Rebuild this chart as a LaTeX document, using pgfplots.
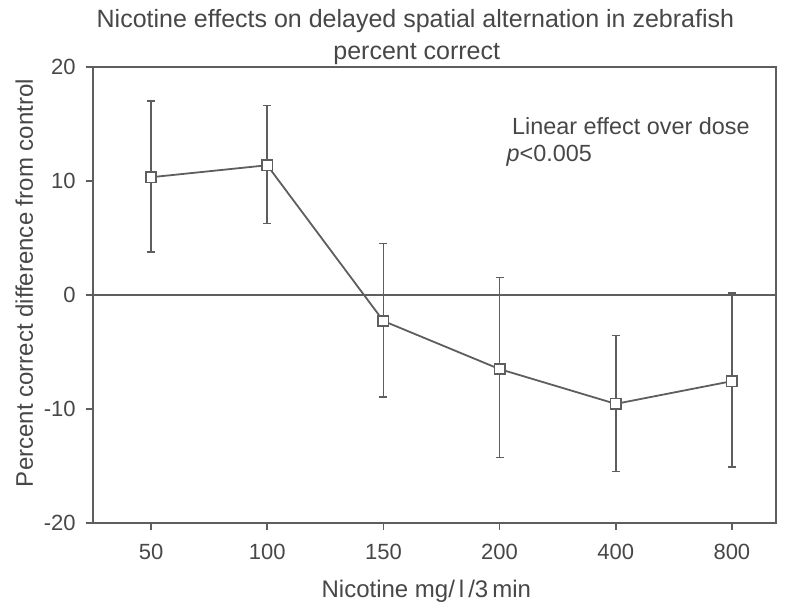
\documentclass[border=0pt]{standalone}
\usepackage{pgfplots}
\pgfplotsset{compat=1.18}
\usepackage{fontspec}
\setmainfont{Liberation Sans}
\usetikzlibrary{calc}
\definecolor{ln}{HTML}{5E5E5E}
\definecolor{txt}{HTML}{474747}

\begin{document}
\begin{tikzpicture}
\fontsize{12}{14}\selectfont
\begin{axis}[
    scale only axis, width=341.5pt, height=228pt,
    xmin=-0.5, xmax=5.38, ymin=-20, ymax=20,
    xtick={0,...,5}, xticklabels={50,100,150,200,400,800},
    ytick={-20,-10,0,10,20},
    tick align=outside, tick pos=left, major tick length=3.5pt,
    axis line style={ln, line width=0.8pt},
    tick style={ln, line width=0.8pt},
    ticklabel style={font=\fontsize{11}{13}\selectfont, text=txt},
    /pgf/number format/assume math mode=true,
    xticklabel style={yshift=-3pt},
    yticklabel style={xshift=-1pt},
    clip=false]
  % zero reference line
  \addplot[ln, line width=0.8pt] coordinates {(-0.5,0) (5.38,0)};
  \addplot[ln, line width=0.9pt, mark=square*, mark size=2.6pt,
      mark options={fill=white, draw=ln, line width=0.8pt},
      error bars/.cd, y dir=both, y explicit,
      error bar style={ln, line width=0.8pt},
      error mark options={rotate=90, mark size=2pt, ln, line width=0.8pt}]
    coordinates {
      (0,10.33)  += (0,6.67) -= (0,6.55)
      (1,11.38)  += (0,5.24) -= (0,5.10)
      (2,-2.28)  += (0,6.80) -= (0,6.69)
      (3,-6.50)  += (0,8.03) -= (0,7.75)
      (4,-9.55)  += (0,5.98) -= (0,5.95)
      (5,-7.56)  += (0,7.74) -= (0,7.54)
    };
  \coordinate (ll) at (rel axis cs:0,0);
  \coordinate (ur) at (rel axis cs:1,1);
  \node[txt, anchor=base, yshift=19.5pt, font=\fontsize{12.5}{14}\selectfont] at (rel axis cs:0.472,1) {Nicotine effects on delayed spatial alternation in zebrafish};
  \node[txt, anchor=base, yshift=3.5pt, font=\fontsize{12.5}{14}\selectfont] at (rel axis cs:0.474,1) {percent correct};
  \node[txt, anchor=base, xshift=-30pt, rotate=90] at (rel axis cs:0,0.526) {Percent correct difference from control};
  \node[txt, anchor=base, yshift=-37.5pt] at (rel axis cs:0.488,0) {Nicotine mg/\,l\,/3\,min};
  \node[txt, anchor=base west, inner sep=0pt, font=\fontsize{11.7}{14}\selectfont] at (rel axis cs:0.613,0.851) {Linear effect over dose};
  \node[txt, anchor=base west, inner sep=0pt, font=\fontsize{11.7}{14}\selectfont] at (rel axis cs:0.605,0.792) {\textit{p}<0.005};
\end{axis}
\pgfresetboundingbox
\path ($(ll)+(-46.5pt,-44.5pt)$) rectangle ($(ur)+(12pt,33.5pt)$);
\end{tikzpicture}
\end{document}
